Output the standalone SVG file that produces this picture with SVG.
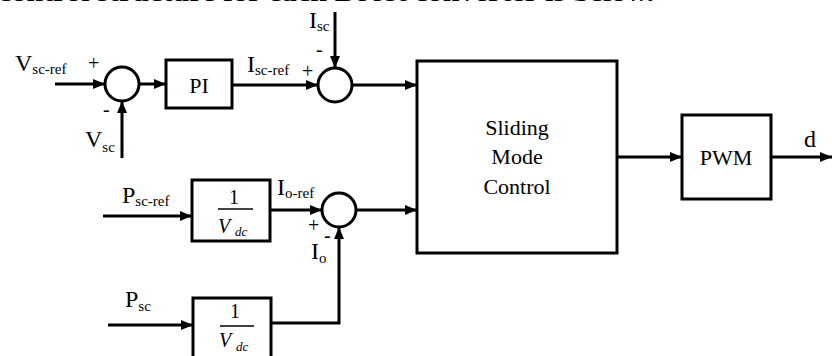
<svg xmlns="http://www.w3.org/2000/svg" width="832" height="356" viewBox="0 0 832 356">
<style>
.box{fill:#fff;stroke:#000;stroke-width:3}
.sum{fill:#fff;stroke:#000;stroke-width:3}
.w{fill:none;stroke:#000;stroke-width:3}
text{font-family:"Liberation Serif","Times New Roman",serif;fill:#000}
.lb{font-size:24px}
.sb{font-size:15px}
.sg{font-size:20px}
.bt{font-size:22px;text-anchor:middle}
.fr{font-size:20px}
.it{font-style:italic}
</style>
<defs>
<marker id="ah" markerUnits="userSpaceOnUse" markerWidth="13" markerHeight="11" refX="12" refY="5" orient="auto">
<path d="M0,0 L12,5 L0,10 z" fill="#000"/>
</marker>
</defs>
<rect width="832" height="356" fill="#fff"/>
<text x="-2" y="1" font-size="24" font-weight="bold" textLength="656" lengthAdjust="spacingAndGlyphs">control structure for each Boost converter is below.</text>

<g id="connectors">
<line class="w" x1="55" y1="84" x2="105" y2="84" marker-end="url(#ah)"/>
<line class="w" x1="122" y1="158" x2="122" y2="101" marker-end="url(#ah)"/>
<line class="w" x1="139" y1="84" x2="166" y2="84" marker-end="url(#ah)"/>
<line class="w" x1="232" y1="85" x2="318" y2="85" marker-end="url(#ah)"/>
<line class="w" x1="335" y1="12" x2="335" y2="68" marker-end="url(#ah)"/>
<line class="w" x1="352" y1="85" x2="417" y2="85" marker-end="url(#ah)"/>
<line class="w" x1="103" y1="216" x2="192" y2="216" marker-end="url(#ah)"/>
<line class="w" x1="270" y1="210" x2="322" y2="210" marker-end="url(#ah)"/>
<line class="w" x1="108" y1="325" x2="193" y2="325" marker-end="url(#ah)"/>
<polyline class="w" points="271,323 339,323 339,227" marker-end="url(#ah)"/>
<line class="w" x1="356" y1="210" x2="417" y2="210" marker-end="url(#ah)"/>
<line class="w" x1="617" y1="157" x2="682" y2="157" marker-end="url(#ah)"/>
<line class="w" x1="771" y1="157" x2="832" y2="157" marker-end="url(#ah)"/>
</g>

<g id="sum1"><circle class="sum" cx="122" cy="84" r="17"/></g>
<g id="pi"><rect class="box" x="166" y="60" width="66" height="48"/><text class="bt" x="199" y="93" font-size="24">PI</text></g>
<g id="sum2"><circle class="sum" cx="335" cy="85" r="17"/></g>
<g id="smc"><rect class="box" x="417" y="61" width="200" height="192"/>
<text class="bt" x="517" y="135">Sliding</text>
<text class="bt" x="517" y="164">Mode</text>
<text class="bt" x="517" y="194">Control</text></g>
<g id="pwm"><rect class="box" x="682" y="115" width="89" height="84"/><text class="bt" x="726" y="165">PWM</text></g>
<g id="gain1"><rect class="box" x="192" y="180" width="78" height="61"/>
<text class="fr" x="234" y="204" text-anchor="middle">1</text>
<line x1="218" y1="209" x2="253" y2="209" stroke="#000" stroke-width="1.5"/>
<text class="fr it" x="218" y="233">V</text><text class="it" x="235" y="236" font-size="13">dc</text></g>
<g id="sum3"><circle class="sum" cx="339" cy="210" r="17"/></g>
<g id="gain2"><rect class="box" x="193" y="298" width="78" height="64"/>
<text class="fr" x="235" y="318" text-anchor="middle">1</text>
<line x1="220" y1="326" x2="254" y2="326" stroke="#000" stroke-width="1.5"/>
<text class="fr it" x="219" y="347">V</text><text class="it" x="236" y="351" font-size="13">dc</text></g>

<g id="labels">
<text x="15" y="71"><tspan class="lb">V</tspan><tspan class="sb" dy="3">sc-ref</tspan></text>
<text x="88" y="70" class="sg">+</text>
<text x="103" y="116" class="sg">-</text>
<text x="85" y="147"><tspan class="lb">V</tspan><tspan class="sb" dy="5">sc</tspan></text>
<text x="247" y="72"><tspan class="lb">I</tspan><tspan class="sb" dy="3">sc-ref</tspan></text>
<text x="302" y="78" class="sg">+</text>
<text x="316" y="56" class="sg">-</text>
<text x="309" y="28"><tspan class="lb">I</tspan><tspan class="sb" dy="3">sc</tspan></text>
<text x="122" y="203"><tspan class="lb">P</tspan><tspan class="sb" dy="3">sc-ref</tspan></text>
<text x="277" y="195"><tspan class="lb">I</tspan><tspan class="sb" dy="3">o-ref</tspan></text>
<text x="308" y="232" class="sg">+</text>
<text x="324" y="242" class="sg">-</text>
<text x="311" y="259"><tspan class="lb">I</tspan><tspan class="sb" dy="4">o</tspan></text>
<text x="125" y="307"><tspan class="lb">P</tspan><tspan class="sb" dy="4">sc</tspan></text>
<text x="804" y="147" class="lb">d</text>
</g>
</svg>
